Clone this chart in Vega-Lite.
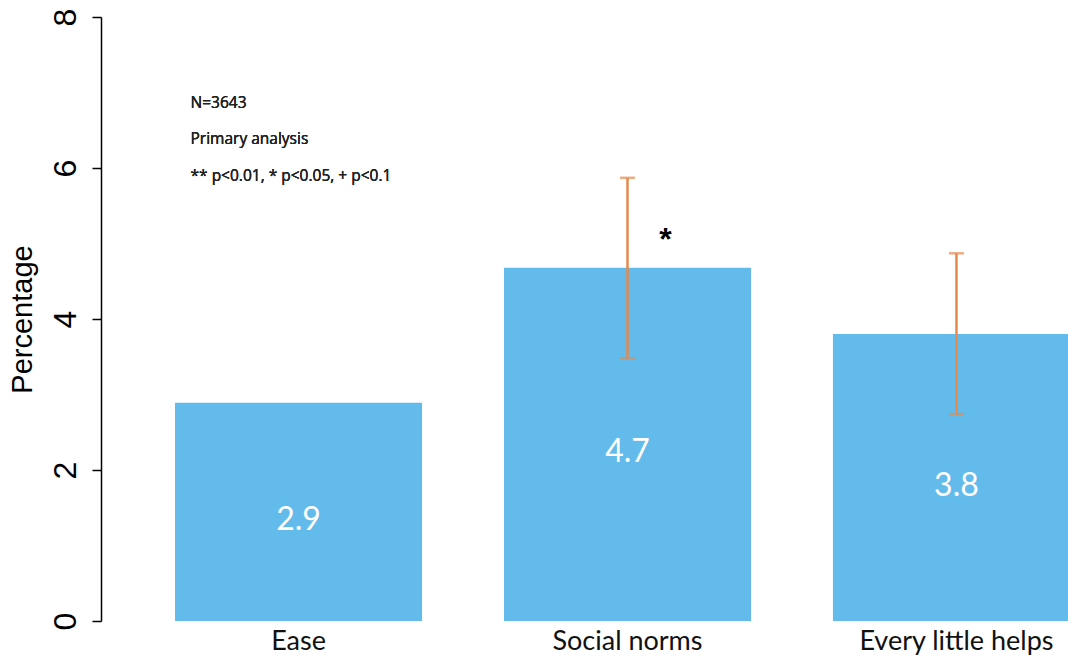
{
  "$schema": "https://vega.github.io/schema/vega-lite/v6.json",
  "width": 967,
  "height": 604,
  "autosize": {"type": "none"},
  "padding": {"left": 101, "top": 17, "right": 0, "bottom": 37},
  "background": "white",
  "config": {"view": {"stroke": null}},
  "data": {"values": [
    {"condition": "Ease", "value": 2.89, "label": "2.9", "lo": null, "hi": null, "sig": ""},
    {"condition": "Social norms", "value": 4.68, "label": "4.7", "lo": 3.48, "hi": 5.87, "sig": "*"},
    {"condition": "Every little helps", "value": 3.80, "label": "3.8", "lo": 2.74, "hi": 4.87, "sig": ""}
  ]},
  "encoding": {
    "x": {
      "field": "condition", "type": "nominal", "sort": null,
      "scale": {"range": [0, 1053], "paddingInner": 0.249, "paddingOuter": 0.225},
      "axis": {"title": null, "domain": false, "ticks": false, "labelAngle": 0, "labelFont": "Lato", "labelFontSize": 27, "labelColor": "#111", "labelPadding": 7, "labelLimit": 0}
    }
  },
  "layer": [
    {
      "encoding": {
        "y": {"type": "quantitative", "scale": {"domain": [0, 8], "nice": false}}
      },
      "layer": [
        {
          "mark": {"type": "bar", "color": "#62BBEA"},
          "encoding": {
            "y": {
              "field": "value", "type": "quantitative",
              "axis": {"title": "Percentage", "values": [0, 2, 4, 6, 8], "format": "d", "grid": false,
                "domainColor": "#000", "domainWidth": 1.5, "tickColor": "#000", "tickWidth": 1.5, "tickSize": 9,
                "labelAngle": -90, "labelFont": "Liberation Sans", "labelFontSize": 32, "labelColor": "#000", "labelPadding": 10,
                "titleFont": "Liberation Sans", "titleFontSize": 29, "titleFontWeight": "normal", "titleColor": "#000", "titlePadding": 12}
            }
          }
        },
        {
          "transform": [{"filter": "datum.lo != null"}],
          "mark": {"type": "rule", "color": "#E5894E", "strokeWidth": 2.5},
          "encoding": {"y": {"field": "lo", "type": "quantitative"}, "y2": {"field": "hi"}}
        },
        {
          "transform": [{"filter": "datum.lo != null"}],
          "mark": {"type": "tick", "color": "#E5894E", "size": 15, "thickness": 2.5, "orient": "horizontal"},
          "encoding": {"y": {"field": "lo", "type": "quantitative"}}
        },
        {
          "transform": [{"filter": "datum.hi != null"}],
          "mark": {"type": "tick", "color": "#E5894E", "size": 15, "thickness": 2.5, "orient": "horizontal"},
          "encoding": {"y": {"field": "hi", "type": "quantitative"}}
        },
        {
          "transform": [{"filter": "datum.sig != ''"}],
          "mark": {"type": "text", "font": "Liberation Sans", "fontSize": 32, "fontWeight": "bold", "color": "#000", "align": "center", "baseline": "alphabetic", "dx": 38, "dy": -18},
          "encoding": {"y": {"field": "value", "type": "quantitative"}, "text": {"field": "sig"}}
        },
        {
          "mark": {"type": "text", "font": "Open Sans", "fontSize": 15.5, "fontWeight": "normal", "color": "#222", "align": "left", "baseline": "alphabetic", "dx": -108, "lineHeight": 36.5,
            "text": ["N=3643", "Primary analysis", "** p<0.01, * p<0.05, + p<0.1"]},
          "encoding": {"x": {"datum": "Ease"}, "y": {"datum": 6.8}}
        }
      ]
    },
    {
      "mark": {"type": "text", "font": "Lato", "fontSize": 32, "color": "white", "align": "center", "baseline": "middle", "dy": 8},
      "encoding": {
        "y": {"field": "value", "type": "quantitative", "scale": {"domain": [0, 16], "nice": false}, "axis": null},
        "text": {"field": "label"}
      }
    }
  ],
  "resolve": {"scale": {"y": "independent"}}
}
